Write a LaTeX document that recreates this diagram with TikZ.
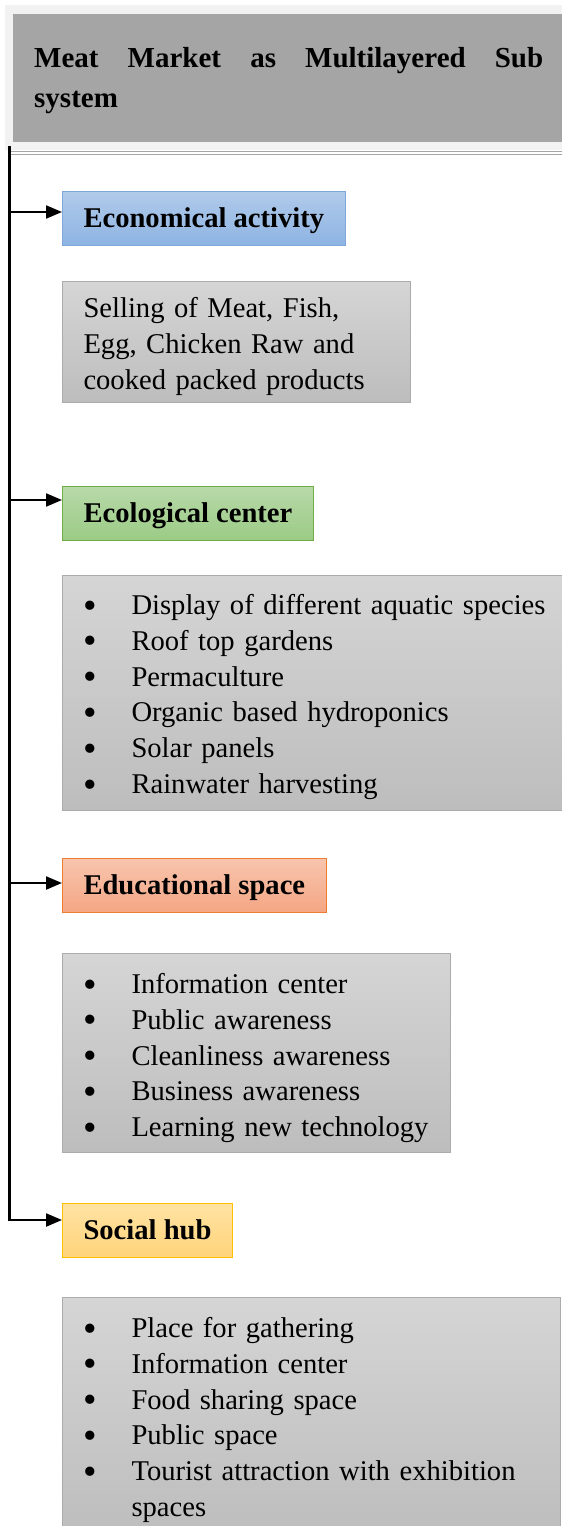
\documentclass[tikz,border=0pt]{standalone}
\usepackage{fontspec}
\setmainfont{Liberation Serif}
\usetikzlibrary{arrows.meta}

\definecolor{bandgray}{HTML}{F2F2F2}
\definecolor{headgray}{HTML}{A5A5A5}
\definecolor{rulegray}{HTML}{A6A6A6}
\definecolor{boxline}{HTML}{ABABAB}
\definecolor{graytop}{HTML}{D5D5D5}
\definecolor{graybot}{HTML}{BDBDBD}
\definecolor{bluetop}{HTML}{B0CAEA}
\definecolor{bluebot}{HTML}{8EB4E3}
\definecolor{blueline}{HTML}{7FA7DA}
\definecolor{greentop}{HTML}{B8D9A9}
\definecolor{greenbot}{HTML}{9BCB85}
\definecolor{greenline}{HTML}{70AD47}
\definecolor{orangetop}{HTML}{F8C5AE}
\definecolor{orangebot}{HTML}{F4A683}
\definecolor{orangeline}{HTML}{ED7D31}
\definecolor{yellowtop}{HTML}{FFE2A3}
\definecolor{yellowbot}{HTML}{FFD47A}
\definecolor{yellowline}{HTML}{FFC000}

% one bullet line, wrapped lines hang under the text
\newcommand{\itm}[1]{\noindent\hangindent=48pt\hangafter=1\hyphenpenalty=10000\relax
	\makebox[48pt][l]{\raisebox{-3.5pt}{\scalebox{1.35}{\textbullet}}}#1\par}

\begin{document}
\begin{tikzpicture}[x=1pt,y=-1pt,
	cat/.style={anchor=north west, line width=1pt, minimum height=54pt, inner xsep=21pt, inner ysep=0pt,
		text height=22pt, text depth=5pt, font=\fontsize{28.6}{36}\selectfont\bfseries},
	list/.style={anchor=north west, draw=boxline, line width=1pt, top color=graytop, bottom color=graybot,
		inner xsep=21pt, inner ysep=0pt, align=left, font=\fontsize{28.6}{35.8}\selectfont},
	arr/.style={line width=2.2pt, -{Triangle[length=16pt,width=13pt]}}]
	\useasboundingbox (0,0) rectangle (562,1526);

	% heading
	\fill[bandgray] (5,5) rectangle (570,150);
	\node[anchor=north west, fill=headgray, minimum height=128pt, inner xsep=21pt, inner ysep=0pt,
		text width=509pt, align=justify, text height=53pt, text depth=75pt,
		font=\fontsize{29}{40}\selectfont\bfseries] (title) at (13,14)
		{Meat Market as Multilayered Sub\linebreak system};
	\draw[rulegray, line width=1.2pt] (11,151.5) -- (570,151.5);
	\draw[rulegray, line width=1.5pt] (11,154.5) -- (570,154.5);

	% layers
	\node[cat, draw=blueline, top color=bluetop, bottom color=bluebot] (econ) at (62,191) {Economical activity};
	\node[list, text width=306pt, text height=36pt, text depth=85pt] (econList) at (62,281)
		{Selling of Meat, Fish,\\ Egg, Chicken Raw and\\ cooked packed products};

	\node[cat, draw=greenline, top color=greentop, bottom color=greenbot] (eco) at (62,486) {Ecological center};
	\node[list, text width=478pt, text height=39pt, text depth=196pt] (ecoList) at (62,575)
		{\itm{Display of different aquatic species}
		\itm{Roof top gardens}
		\itm{Permaculture}
		\itm{Organic based hydroponics}
		\itm{Solar panels}
		\itm{Rainwater harvesting}};

	\node[cat, draw=orangeline, top color=orangetop, bottom color=orangebot] (edu) at (62,858) {Educational space};
	\node[list, text width=346pt, text height=40pt, text depth=159pt] (eduList) at (62,953)
		{\itm{Information center}
		\itm{Public awareness}
		\itm{Cleanliness awareness}
		\itm{Business awareness}
		\itm{Learning new technology}};

	\node[cat, draw=yellowline, top color=yellowtop, bottom color=yellowbot] (social) at (62,1203) {Social hub};
	\node[list, text width=456pt, text height=40pt, text depth=200pt] (socialList) at (62,1297)
		{\itm{Place for gathering}
		\itm{Information center}
		\itm{Food sharing space}
		\itm{Public space}
		\itm{Tourist attraction with exhibition spaces}};

	% spine and arrows
	\coordinate (spine) at (9.5,146);
	\coordinate (econIn) at ([yshift=-21pt]econ.north west);
	\coordinate (ecoIn) at ([yshift=-14pt]eco.north west);
	\coordinate (eduIn) at ([yshift=-25pt]edu.north west);
	\coordinate (socialIn) at ([yshift=-17pt]social.north west);
	\draw[arr] (spine) |- (socialIn);
	\draw[arr] (spine |- econIn) -- (econIn);
	\draw[arr] (spine |- ecoIn) -- (ecoIn);
	\draw[arr] (spine |- eduIn) -- (eduIn);
\end{tikzpicture}
\end{document}
